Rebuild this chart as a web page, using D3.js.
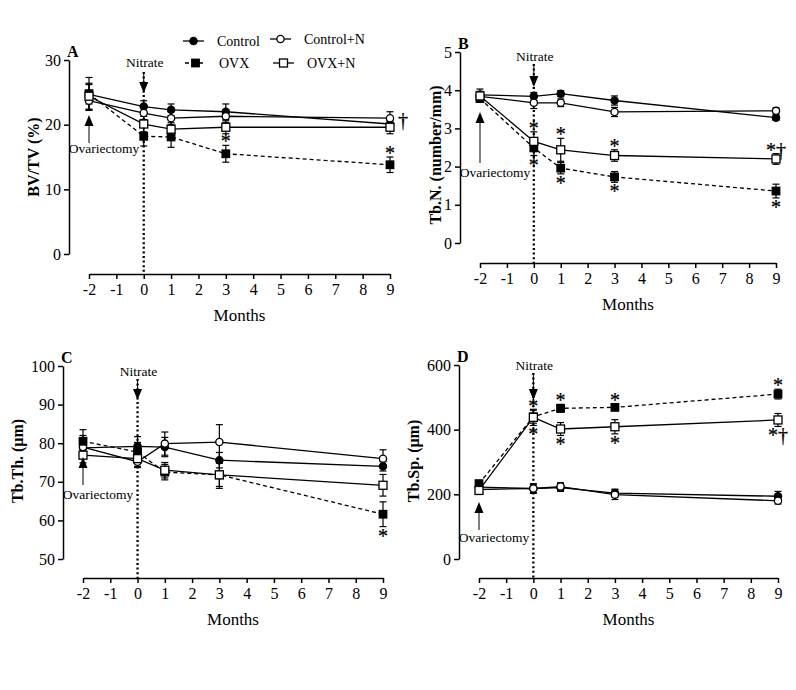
<!DOCTYPE html>
<html lang="en">
<head>
  <meta charset="UTF-8" />
  <title>Bone microarchitecture over time</title>
  <script src="https://d3js.org/d3.v7.min.js"></script>
  <style>
    body {
      margin: 0;
      background: #fff;
    }

    svg {
      display: block;
      font-family: "Liberation Serif", "Times New Roman", serif;
    }

    .axis path,
    .axis line {
      stroke: #000;
      stroke-width: 1.5px;
    }

    .axis text {
      font-size: 16px;
      fill: #000;
      font-family: "Liberation Serif", serif;
    }
  </style>
</head>

<body>
  <svg width="796" height="690"></svg>

  <script>
    // ---- data ----
    const months = [-2, 0, 1, 3, 9];
    const groups = ["Control", "Control+N", "OVX", "OVX+N"];

    // BV/TV (%)
    const bvtvMean = [
      [24.7, 22.8, 22.3, 22.0, 20.1],
      [23.7, 21.8, 21.0, 21.3, 21.0],
      [24.8, 18.2, 18.1, 15.5, 13.8],
      [24.4, 20.1, 19.3, 19.6, 19.6]
    ];
    const bvtvErr = [
      [1.5, 0.9, 0.9, 1.2, 0.9],
      [1.5, 1.0, 1.0, 1.0, 1.0],
      [2.5, 1.5, 1.6, 1.3, 1.2],
      [2.0, 1.2, 1.0, 1.0, 1.0]
    ];
    const bvtvSig = [["OVX", 3, "above", "*"], ["OVX", 9, "above", "*"], ["Control+N", 9, "right", "†"]];

    // Tb.N. (number/mm)
    const tbnMean = [
      [3.88, 3.84, 3.91, 3.73, 3.28],
      [3.84, 3.67, 3.67, 3.43, 3.46],
      [3.78, 2.49, 1.96, 1.73, 1.36],
      [3.85, 2.66, 2.44, 2.29, 2.20]
    ];
    const tbnErr = [
      [0.15, 0.10, 0.08, 0.12, 0.07],
      [0.12, 0.15, 0.10, 0.12, 0.08],
      [0.10, 0.20, 0.15, 0.14, 0.18],
      [0.12, 0.25, 0.30, 0.15, 0.14]
    ];
    const tbnSig = [
      ["OVX+N", 0, "above", "*"], ["OVX", 0, "below", "*"],
      ["OVX+N", 1, "above", "*"], ["OVX", 1, "below", "*"],
      ["OVX+N", 3, "above", "*"], ["OVX", 3, "below", "*"],
      ["OVX+N", 9, "above", "*†"], ["OVX", 9, "below", "*"]
    ];

    // Tb.Th. (μm)
    const tbthMean = [
      [78.8, 79.2, 79.0, 75.6, 74.0],
      [79.0, 75.2, 79.9, 80.3, 76.0],
      [80.5, 77.7, 72.5, 71.8, 61.6],
      [76.9, 76.0, 73.0, 71.8, 69.1]
    ];
    const tbthErr = [
      [2.5, 2.5, 2.5, 2.0, 1.2],
      [3.0, 1.5, 3.0, 4.5, 2.3],
      [3.0, 2.5, 2.0, 3.5, 3.2],
      [2.0, 2.0, 2.0, 3.0, 2.8]
    ];
    const tbthSig = [["OVX", 9, "below", "*"]];

    // Tb.Sp. (μm)
    const tbspMean = [
      [222, 218, 221, 204, 194],
      [215, 218, 224, 199, 180],
      [233, 440, 466, 469, 510],
      [212, 438, 402, 409, 430]
    ];
    const tbspErr = [
      [12, 15, 12, 12, 15],
      [10, 12, 12, 15, 10],
      [10, 20, 12, 10, 15],
      [10, 25, 20, 22, 20]
    ];
    const tbspSig = [
      ["OVX", 0, "above", "*"], ["OVX+N", 0, "below", "*"],
      ["OVX", 1, "above", "*"], ["OVX+N", 1, "below", "*"],
      ["OVX", 3, "above", "*"], ["OVX+N", 3, "below", "*"],
      ["OVX", 9, "above", "*"], ["OVX+N", 9, "below", "*†"]
    ];

    const xTicks = [-2, -1, 0, 1, 2, 3, 4, 5, 6, 7, 8, 9];

    // ---- layout ----
    const panels = [
      { letter: "A", title: "BV/TV (%)", mean: bvtvMean, err: bvtvErr, sig: bvtvSig,
        yDomain: [0, 30], yTicks: [0, 10, 20, 30],
        xRange: [89, 390], yRange: [254, 60], axisX: 69, axisY: 274, titleX: 33, titleY: 157,
        nitrate: [67, 72, 93], ovx: [115, 143, 153] },
      { letter: "B", title: "Tb.N. (number/mm)", mean: tbnMean, err: tbnErr, sig: tbnSig,
        yDomain: [0, 5], yTicks: [0, 1, 2, 3, 4, 5],
        xRange: [480, 776], yRange: [243, 52], axisX: 460, axisY: 263, titleX: 435, titleY: 155,
        nitrate: [61, 64, 87], ovx: [112, 163, 177] },
      { letter: "C", title: "Tb.Th. (μm)", mean: tbthMean, err: tbthErr, sig: tbthSig,
        yDomain: [50, 100], yTicks: [50, 60, 70, 80, 90, 100],
        xRange: [83, 383], yRange: [559, 366], axisX: 63, axisY: 578, titleX: 17, titleY: 461,
        nitrate: [376, 379, 400], ovx: [457, 485, 499] },
      { letter: "D", title: "Tb.Sp. (μm)", mean: tbspMean, err: tbspErr, sig: tbspSig,
        yDomain: [0, 600], yTicks: [0, 200, 400, 600],
        xRange: [479, 778], yRange: [559, 365], axisX: 459, axisY: 578, titleX: 413, titleY: 461,
        nitrate: [370, 373, 400], ovx: [502, 530, 542] }
    ];

    const style = {
      "Control": { dash: null, shape: "circle", fill: "#000" },
      "Control+N": { dash: null, shape: "circle", fill: "#fff" },
      "OVX": { dash: "4,3", shape: "square", fill: "#000" },
      "OVX+N": { dash: null, shape: "square", fill: "#fff" }
    };

    // plain hyphen for negatives, like the original figure
    const plain = d => String(d);

    const svg = d3.select("svg");

    function marker(g, name, cx, cy) {
      const s = style[name];
      if (s.shape === "circle") {
        g.append("circle").attr("cx", cx).attr("cy", cy).attr("r", 3.6)
          .attr("fill", s.fill).attr("stroke", "#000").attr("stroke-width", 1.3);
      } else {
        const w = s.fill === "#000" ? 7.5 : 8;
        g.append("rect").attr("x", cx - w / 2).attr("y", cy - w / 2).attr("width", w).attr("height", w)
          .attr("fill", s.fill).attr("stroke", "#000").attr("stroke-width", 1.3);
      }
    }

    function arrowHead(g, x, tipY, dir) {
      // dir = 1 points down, -1 points up
      g.append("path")
        .attr("d", `M${x},${tipY} L${x - 4.5},${tipY - dir * 11} L${x + 4.5},${tipY - dir * 11} Z`)
        .attr("fill", "#000");
    }

    panels.forEach(p => {
      const x = d3.scaleLinear().domain([-2, 9]).range(p.xRange);
      const y = d3.scaleLinear().domain(p.yDomain).range(p.yRange);
      const g = svg.append("g");

      // axes
      g.append("g").attr("class", "axis")
        .attr("transform", `translate(${p.axisX},0)`)
        .call(d3.axisLeft(y).tickValues(p.yTicks).tickSize(5).tickSizeOuter(0).tickPadding(3)
          .tickFormat(plain))
        .attr("font-family", null).attr("font-size", null);
      g.append("g").attr("class", "axis")
        .attr("transform", `translate(0,${p.axisY})`)
        .call(d3.axisBottom(x).tickValues(xTicks).tickSize(5).tickSizeOuter(0).tickPadding(5)
          .tickFormat(plain))
        .attr("font-family", null).attr("font-size", null);

      g.append("text")
        .attr("x", x(3.5)).attr("y", p.axisY + 47)
        .attr("text-anchor", "middle").attr("font-size", 17).text("Months");

      g.append("text")
        .attr("transform", `translate(${p.titleX},${p.titleY}) rotate(-90)`)
        .attr("text-anchor", "middle").attr("dominant-baseline", "central")
        .attr("font-size", 16).attr("font-weight", "bold").text(p.title);

      g.append("text")
        .attr("x", p.axisX - 2).attr("y", p.yRange[1] - 3)
        .attr("font-size", 16).attr("font-weight", "bold").text(p.letter);

      // nitrate marker
      const x0 = x(0);
      g.append("line")
        .attr("x1", x0).attr("x2", x0).attr("y1", p.nitrate[1]).attr("y2", p.axisY)
        .attr("stroke", "#000").attr("stroke-width", 2.3).attr("stroke-dasharray", "2,2.6");
      g.append("line")
        .attr("x1", x0).attr("x2", x0).attr("y1", p.nitrate[1]).attr("y2", p.nitrate[2] - 8)
        .attr("stroke", "#000").attr("stroke-width", 1);
      arrowHead(g, x0, p.nitrate[2], 1);
      g.append("text")
        .attr("x", x0 + 1).attr("y", p.nitrate[0])
        .attr("text-anchor", "middle").attr("font-size", 13.5).text("Nitrate");

      // series lines
      const line = d3.line().x((d, i) => x(months[i])).y(d => y(d));
      groups.forEach((name, si) => {
        g.append("path")
          .datum(p.mean[si])
          .attr("d", line)
          .attr("fill", "none")
          .attr("stroke", "#000")
          .attr("stroke-width", 1.3)
          .attr("stroke-dasharray", style[name].dash);
      });

      // error bars
      groups.forEach((name, si) => {
        p.mean[si].forEach((v, i) => {
          const e = p.err[si][i];
          const cx = x(months[i]);
          const yt = y(v + e), yb = y(v - e);
          g.append("line").attr("x1", cx).attr("x2", cx).attr("y1", yt).attr("y2", yb)
            .attr("stroke", "#000").attr("stroke-width", 1.2);
          [yt, yb].forEach(yy => {
            g.append("line").attr("x1", cx - 3.5).attr("x2", cx + 3.5).attr("y1", yy).attr("y2", yy)
              .attr("stroke", "#000").attr("stroke-width", 1.2);
          });
        });
      });

      // markers
      groups.forEach((name, si) => {
        p.mean[si].forEach((v, i) => marker(g, name, x(months[i]), y(v)));
      });

      // ovariectomy arrow
      const xm = x(-2);
      g.append("line")
        .attr("x1", xm).attr("x2", xm).attr("y1", p.ovx[0] + 8).attr("y2", p.ovx[1])
        .attr("stroke", "#000").attr("stroke-width", 1);
      arrowHead(g, xm, p.ovx[0], -1);
      g.append("text")
        .attr("x", xm + 15).attr("y", p.ovx[2])
        .attr("text-anchor", "middle").attr("font-size", 13.5).text("Ovariectomy");

      // significance marks
      p.sig.forEach(([name, m, side, label]) => {
        const si = groups.indexOf(name);
        const i = months.indexOf(m);
        const v = p.mean[si][i], e = p.err[si][i];
        let cx = x(m), cy;
        if (side === "above") cy = y(v + e) - 6;
        else if (side === "below") cy = y(v - e) + 7;
        else { cx = x(m) + 13; cy = y(v); }
        g.append("text")
          .attr("x", cx).attr("y", cy + 9)
          .attr("text-anchor", "middle").attr("font-size", 20)
          .attr("fill", "#000").attr("stroke", "#000").attr("stroke-width", 0.25)
          .text(label);
      });
    });

    // ---- legend ----
    const legendItems = [
      { name: "Control", x: 183, y: 41 },
      { name: "Control+N", x: 270, y: 39 },
      { name: "OVX", x: 185, y: 63 },
      { name: "OVX+N", x: 273, y: 63 }
    ];
    const lg = svg.append("g");
    legendItems.forEach(d => {
      const len = 21;
      lg.append("line")
        .attr("x1", d.x).attr("x2", d.x + len).attr("y1", d.y).attr("y2", d.y)
        .attr("stroke", "#000").attr("stroke-width", 1.3)
        .attr("stroke-dasharray", style[d.name].dash);
      marker(lg, d.name, d.x + len / 2, d.y);
      lg.append("text")
        .attr("x", d.x + len + 13).attr("y", d.y + 5)
        .attr("font-size", 14).text(d.name);
    });
  </script>
</body>
</html>
